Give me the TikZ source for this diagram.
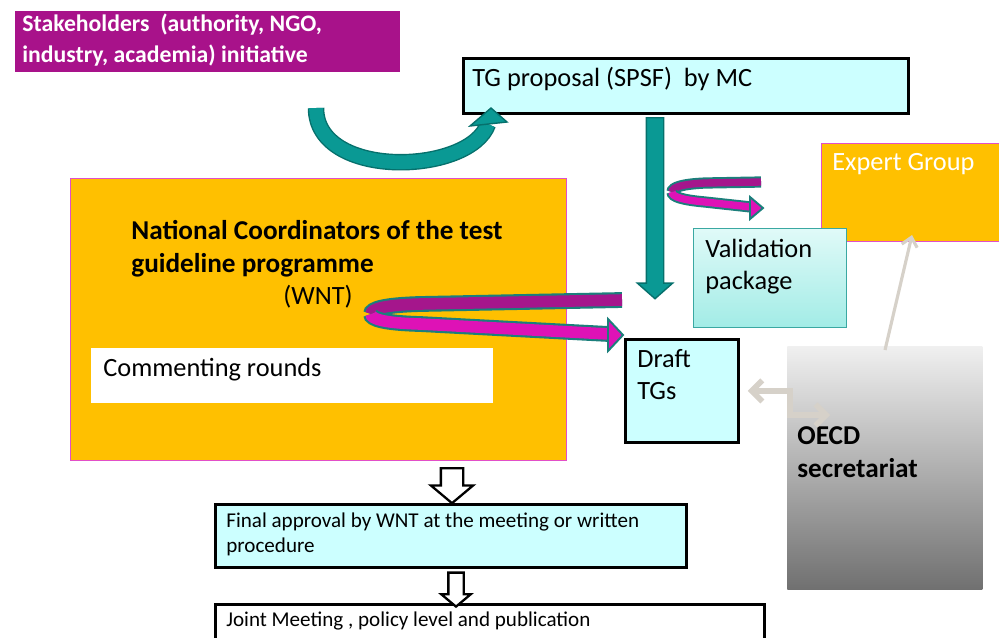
\documentclass[tikz,border=0pt]{standalone}
\usepackage{fontspec}
\setmainfont{Carlito}
\usetikzlibrary{arrows.meta, calc, shapes.arrows, shadows}
\definecolor{tgcyan}{HTML}{CCFFFF}
\definecolor{ncorange}{HTML}{FFC000}
\definecolor{stakepurple}{HTML}{A8128A}
\definecolor{pinkline}{HTML}{E24FC8}
\definecolor{arrowteal}{HTML}{0A9994}
\definecolor{arrowdark}{HTML}{06706C}
\definecolor{ribbonteal}{HTML}{1B7F7B}
\definecolor{darkmag}{HTML}{A5168C}
\definecolor{brightmag}{HTML}{DE12B6}
\definecolor{valtop}{HTML}{E0FAF8}
\definecolor{valbot}{HTML}{A2ECE6}
\definecolor{valborder}{HTML}{3AA8A2}
\definecolor{linkgray}{HTML}{D6D1C9}
\tikzset{
  box/.style = {anchor=north west, inner sep=0pt},
  cyanbox/.style = {box, fill=tgcyan, draw=black, line width=1.6pt},
  orangebox/.style = {box, fill=ncorange, draw=pinkline, line width=0.6pt},
  txt/.style = {inner sep=0pt, align=left, font=\fontsize{15}{18}\selectfont},
  smalltxt/.style = {txt, font=\fontsize{12}{14.7}\selectfont},
  boldtxt/.style = {txt, font=\bfseries\fontsize{15.5}{19}\selectfont},
  tealblock/.style = {single arrow, draw=arrowdark, fill=arrowteal, line width=0.8pt,
    inner xsep=0pt, inner ysep=0.16cm, single arrow head extend=0.18cm, single arrow tip angle=97},
  hollowblock/.style = {single arrow, draw=black, fill=white, line width=1.3pt,
    inner xsep=0pt, single arrow tip angle=100},
  curvearrow/.style = {draw=arrowteal, line width=7.8pt, preaction={draw=arrowdark, line width=9.4pt}},
  bigdark/.style = {draw=darkmag, line width=6.6pt, preaction={draw=ribbonteal, line width=9pt}},
  bigbright/.style = {draw=brightmag, line width=6.6pt, preaction={draw=ribbonteal, line width=9pt}},
  smalldark/.style = {draw=darkmag, line width=4.2pt, preaction={draw=ribbonteal, line width=6.4pt}},
  smallbright/.style = {draw=brightmag, line width=4.2pt, preaction={draw=ribbonteal, line width=6.4pt}},
  ribbonhead/.style = {fill=brightmag, draw=ribbonteal, line width=1.1pt},
  graylink/.style = {draw=linkgray, line width=3.2pt}
}

\begin{document}
\begin{tikzpicture}[x=0.02cm, y=-0.02cm]
\useasboundingbox (0,0) rectangle (999,637);

% boxes
\node[box, fill=stakepurple, draw=white, line width=1.5pt,
  drop shadow={shadow xshift=1.2pt, shadow yshift=-1.2pt, opacity=0.3},
  minimum width=7.76cm, minimum height=1.28cm] (stake) at (12,8) {};
\node[cyanbox, minimum width=8.9cm, minimum height=1.1cm] (tg) at (462,57) {};
\node[orangebox, minimum width=9.92cm, minimum height=5.64cm] (nc) at (70,178) {};
\node[box, fill=white, minimum width=8.04cm, minimum height=1.1cm] (rounds) at (91,348) {};
\node[orangebox, minimum width=3.7cm, minimum height=1.96cm] (expert) at (821,143) {};
\node[box, top color=valtop, bottom color=valbot, draw=valborder, line width=0.8pt,
  minimum width=3.06cm, minimum height=1.98cm] (valid) at (693,228) {};
\node[cyanbox, minimum width=2.26cm, minimum height=2.06cm] (draft) at (624,338) {};
\node[box, top color=black!6, bottom color=black!56,
  minimum width=3.9cm, minimum height=4.86cm] (oecd) at (787,346) {};
\node[cyanbox, minimum width=9.42cm, minimum height=1.26cm] (final) at (214,503) {};
\node[cyanbox, fill=white, minimum width=10.98cm, minimum height=1.3cm] (joint) at (214,603) {};

% texts
\node[txt, font=\bfseries\fontsize{13.5}{17.6}\selectfont, text=white, anchor=north west]
  (staketext) at (22,14) {Stakeholders\ \ (authority,\ NGO,\\industry,\ academia)\ initiative};
\node[txt, anchor=west] (tgtext) at (472,79) {TG proposal (SPSF)\ \ by MC};
\node[boldtxt, anchor=north west] (nctext) at (131,220) {National Coordinators of the test\\guideline programme};
\node[txt, anchor=west] (wnt) at (283,297) {(WNT)};
\node[txt, anchor=west] (roundstext) at (103,370) {Commenting rounds};
\node[txt, text=white, anchor=west] (experttext) at (832,164) {Expert Group};
\node[txt, anchor=north west] (validtext) at (705,239) {Validation\\package};
\node[txt, anchor=north west] (drafttext) at (637,349) {Draft\\TGs};
\node[boldtxt, anchor=north west] (oecdtext) at (797,426) {OECD\\secretariat};
\node[smalltxt, anchor=north west] (finaltext) at (226,512) {Final approval by WNT at the meeting or written\\procedure};
\node[smalltxt, anchor=west] (jointtext) at (226,621) {Joint Meeting , policy level and publication};

% curved arrow stakeholders -> TG proposal
\coordinate (curvestart) at (316,108);
\coordinate (curveend) at (488,124);
\draw[curvearrow] (curvestart) .. controls (316,180) and (470,175) .. (curveend);
\draw[fill=arrowteal, draw=arrowdark, line width=0.8pt] (470,126) -- (491,108) -- (507,122) -- cycle;

% TG proposal -> draft TGs
\coordinate (tgend) at (655,294);
\path ($(tg.south west)+(193,0)$) -- (tgend)
  node[midway, sloped, allow upside down, tealblock, minimum height=3.62cm] (tgdown) {};

% small ribbon to the validation package
\coordinate (smallstart) at (761,182);
\coordinate (smallcurl) at (672,192);
\coordinate (smallend) at (751,207);
\draw[smalldark] (smallstart) -- (705,183) .. controls (683,184) and (672,187) .. (smallcurl);
\draw[smallbright] (smallcurl) .. controls (672,197) and (683,200) .. (705,202) -- (smallend);
\draw[ribbonhead] (750,197) -- (763,208) -- (750,219) -- cycle;

% big ribbon from WNT to draft TGs
\coordinate (bigstart) at (622,300);
\coordinate (bigcurl) at (371,314);
\coordinate (bigend) at (609,334);
\draw[bigdark] (bigstart) -- (420,304) .. controls (384,305) and (371,309) .. (bigcurl);
\draw[bigbright] (bigcurl) .. controls (371,319) and (384,323) .. (420,324) -- (bigend);
\draw[ribbonhead] (608,319) -- (623,335) -- (608,351) -- cycle;

% secretariat links
\coordinate (oecdin) at (830,415);
\draw[graylink, {Straight Barb[length=6pt,width=12pt]}-{Straight Barb[length=6pt,width=12pt]}]
  ($(draft.east)+(8,0)$) -- ++(42,0) |- (oecdin);
\draw[graylink, line width=1.8pt, -{Straight Barb[length=5pt,width=9pt]}]
  ($(oecd.north west)+(98,4)$) -- ($(expert.south west)+(91,-7)$);

% approval steps
\path ($(nc.south west)+(382,3)$) -- ($(final.north west)+(238,-5)$)
  node[midway, sloped, allow upside down, hollowblock, inner ysep=0.2cm,
    single arrow head extend=0.2cm, minimum height=0.7cm] (down1) {};
\path ($(final.south west)+(242,2)$) -- ($(joint.north west)+(242,-1)$)
  node[midway, sloped, allow upside down, hollowblock, inner ysep=0.13cm,
    single arrow head extend=0.14cm, minimum height=0.68cm] (down2) {};
\end{tikzpicture}
\end{document}
